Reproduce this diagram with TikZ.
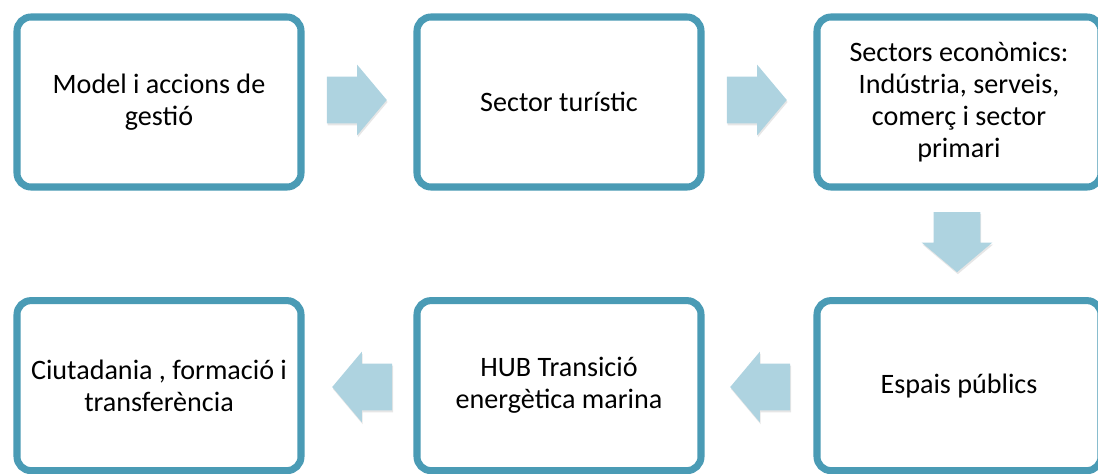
\documentclass[tikz,border=0pt]{standalone}
\usepackage{fontspec}
\setmainfont{Carlito}
\usetikzlibrary{shapes.arrows,shadows}
\definecolor{boxline}{RGB}{74,155,181}
\definecolor{arrowfill}{RGB}{174,211,224}
\begin{document}
\begin{tikzpicture}[inner sep=0pt,outer sep=0pt,
stageblock/.style={draw=boxline,line width=5pt,rounded corners=0.35cm,fill=white,minimum width=7.1cm,minimum height=4.25cm,align=center,font=\fontsize{20}{22.7}\selectfont,drop shadow={opacity=0.25,shadow xshift=0.03cm,shadow yshift=-0.08cm}},
flowarrow/.style={single arrow,fill=arrowfill,inner ysep=0.575cm,minimum height=1.5cm,minimum width=1.75cm,single arrow head extend=0.3cm,single arrow tip angle=100,drop shadow={opacity=0.2,shadow xshift=0.02cm,shadow yshift=-0.05cm}}]
\useasboundingbox (0,0) rectangle (27.45,-11.825);
% top row
\draw (3.975,-2.55) node[stageblock] (model) {Model i accions de\\ gestió};
\draw (13.975,-2.55) node[stageblock] (turisme) {Sector turístic};
\draw (23.975,-2.55) node[stageblock] (sectors) {Sectors econòmics:\\ Indústria, serveis,\\ comerç i sector\\ primari};
% bottom row
\draw (23.975,-9.64) node[stageblock] (espais) {Espais públics};
\draw (13.975,-9.64) node[stageblock] (hub) {HUB Transició\\ energètica marina};
\draw (3.975,-9.64) node[stageblock] (ciutadania) {Ciutadania , formació i\\ transferència};
% arrows
\draw (8.675,-2.5) node[flowarrow] (a1) {};
\draw (18.675,-2.5) node[flowarrow] (a2) {};
\draw (23.925,-5.81) node[flowarrow,rotate=-90] (a3) {};
\draw (19.25,-9.675) node[flowarrow,rotate=180] (a4) {};
\draw (9.3,-9.675) node[flowarrow,rotate=180] (a5) {};
\end{tikzpicture}
\end{document}
